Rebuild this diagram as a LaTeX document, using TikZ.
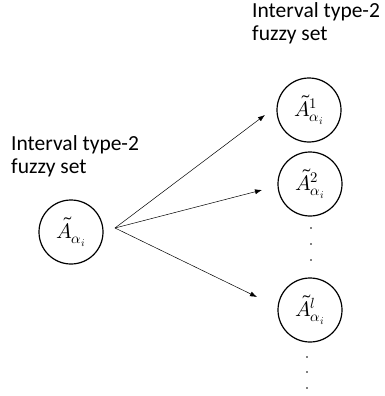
\documentclass[tikz,border=0pt]{standalone}
\usepackage{fontspec}
\usepackage{unicode-math}
\setmainfont{Carlito}
\setmathfont{Latin Modern Math}
\usetikzlibrary{arrows.meta}
\begin{document}
\begin{tikzpicture}[x=1pt,y=-1pt,
  fset/.style={circle,draw,line width=1.2pt,minimum size=64pt,inner sep=0pt,font=\fontsize{21}{24}\selectfont},
  lbl/.style={align=left,font=\fontsize{21.5}{23}\selectfont,anchor=base west,inner sep=0pt},
  arr/.style={-{Latex[length=7pt,width=5pt]},line width=0.5pt},
  dotfill/.style={fill=black}]
\useasboundingbox (0,0) rectangle (384,396);
\node[lbl] (ltext) at (11,173) {Interval type-2\\fuzzy set};
\node[lbl] (rtext) at (252,41) {Interval type-2\\fuzzy set};
\node[fset] (src) at (71,232) {$\tilde{A}_{\alpha_i}$};
\node[fset] (c1) at (309,110) {$\tilde{A}^{1}_{\alpha_i}$};
\node[fset] (c2) at (310,184) {$\tilde{A}^{2}_{\alpha_i}$};
\node[fset] (c3) at (310,310) {$\tilde{A}^{l}_{\alpha_i}$};
\coordinate (o) at (115,228);
\coordinate (t1) at (265,115);
\coordinate (t2) at (262,190);
\coordinate (t3) at (257,297);
\draw[arr] (o) -- (t1);
\draw[arr] (o) -- (t2);
\draw[arr] (o) -- (t3);
\coordinate (d1) at (311,228);
\coordinate (d2) at (311,244);
\coordinate (d3) at (311,260);
\coordinate (d4) at (307,357);
\coordinate (d5) at (307,372);
\coordinate (d6) at (307,388);
\foreach \d in {d1,d2,d3,d4,d5,d6} \fill[dotfill] (\d) circle (0.8);
\end{tikzpicture}
\end{document}
